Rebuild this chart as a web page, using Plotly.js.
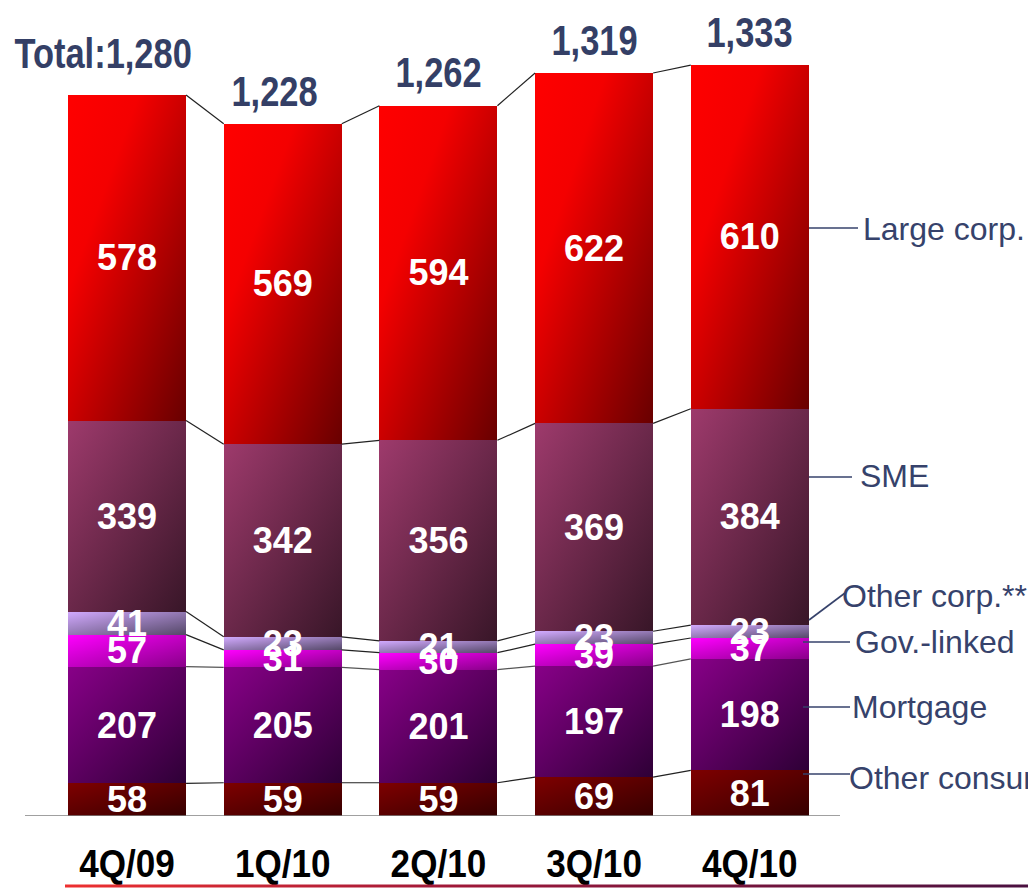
<!DOCTYPE html>
<html>
<head>
<meta charset="utf-8">
<script src="https://cdn.plot.ly/plotly-3.0.1.min.js"></script>
<style>
html,body{margin:0;padding:0;background:#fff;}
#chart{width:1028px;height:888px;}
</style>
</head>
<body>
<div id="chart"></div>
<script>
// ---- data ----
const categories = ['4Q/09', '1Q/10', '2Q/10', '3Q/10', '4Q/10'];
const otherConsumer = [58, 59, 59, 69, 81];
const mortgage = [207, 205, 201, 197, 198];
const govLinked = [57, 31, 30, 39, 37];
const otherCorp = [41, 23, 21, 23, 23];
const sme = [339, 342, 356, 369, 384];
const largeCorp = [578, 569, 594, 622, 610];
const totals = [1280, 1228, 1262, 1319, 1333];
const seriesNames = ['Other consumer', 'Mortgage', 'Gov.-linked', 'Other corp.**', 'SME', 'Large corp.'];
const seriesValues = [otherConsumer, mortgage, govLinked, otherCorp, sme, largeCorp];

// ---- style ----
const W = 1028, H = 888, MB = 72;
const XR = [-0.816, 5.787];
const YR = [0, 1448.6];
const BARW = 0.758;
const arial = "'Liberation Sans', Arial, sans-serif";
const slate = '#343F66';
const labelColor = '#36426B';
const grads = [
  [[0, '#7E0000'], [1, '#360000']],
  [[0, '#880088'], [1, '#2E0036']],
  [[0, '#FF00FF'], [1, '#8A008A']],
  [[0, '#D2AAFF'], [1, '#554868']],
  [[0, '#9E3A6C'], [1, '#381628']],
  [[0, '#FF0000'], [0.3, '#F40000'], [1, '#680000']]
];
const fallback = ['#600000', '#600060', '#D000D0', '#9A80C0', '#6A2A4A', '#C00000'];

const px2x = px => XR[0] + px / W * (XR[1] - XR[0]);
const py2p = py => (H - MB - py) / (H - MB);

const traces = seriesValues.map((vals, k) => ({
  type: 'bar',
  name: seriesNames[k],
  x: categories,
  y: vals,
  text: vals.map(String),
  textposition: 'inside',
  insidetextanchor: 'middle',
  constraintext: 'none',
  textangle: 0,
  textfont: {family: arial, size: 36, color: '#FFFFFF', weight: 'bold'},
  marker: {color: fallback[k], line: {width: 0}},
  hoverinfo: 'skip',
  cliponaxis: false
}));

const shapes = [];
const annotations = [];

// connector lines between bars (cumulative boundaries)
const cum = categories.map((c, i) => {
  const arr = [];
  let s = 0;
  seriesValues.forEach(v => { s += v[i]; arr.push(s); });
  return arr;
});
for (let i = 0; i < categories.length - 1; i++) {
  for (let k = 0; k < seriesValues.length; k++) {
    shapes.push({
      type: 'line', xref: 'x', yref: 'y',
      x0: i + BARW / 2, y0: cum[i][k],
      x1: i + 1 - BARW / 2, y1: cum[i + 1][k],
      line: {color: k === 1 ? '#555555' : '#222222', width: 1.2}
    });
  }
}

// baseline
shapes.push({
  type: 'line', xref: 'x', yref: 'y',
  x0: px2x(25), x1: px2x(840), y0: 0, y1: 0,
  line: {color: '#808080', width: 1.5}
});

// bottom gradient rule
const ruleIndex = shapes.length;
shapes.push({
  type: 'rect', xref: 'paper', yref: 'paper',
  x0: 65 / W, x1: 1, y0: py2p(887.5), y1: py2p(884.5),
  fillcolor: '#B01A30', line: {width: 0}
});

// right-side legend labels with leader lines
const legendSpec = [
  {k: 5, lx0: 809, ly0: 228, lx1: 858, ly1: 228, tx: 861, ty: 229},
  {k: 4, lx0: 809, ly0: 477, lx1: 852, ly1: 477, tx: 858, ty: 476},
  {k: 3, lx0: 809, ly0: 620, lx1: 845, ly1: 593, tx: 840, ty: 596},
  {k: 2, lx0: 803, ly0: 642, lx1: 850, ly1: 642, tx: 853, ty: 642},
  {k: 1, lx0: 803, ly0: 707, lx1: 850, ly1: 707, tx: 850, ty: 707},
  {k: 0, lx0: 803, ly0: 774, lx1: 850, ly1: 774, tx: 847, ty: 778}
];
legendSpec.forEach(s => {
  shapes.push({
    type: 'line', xref: 'paper', yref: 'paper',
    x0: s.lx0 / W, y0: py2p(s.ly0), x1: s.lx1 / W, y1: py2p(s.ly1),
    line: {color: labelColor, width: 1.6}
  });
  annotations.push({
    xref: 'paper', yref: 'paper', x: s.tx / W, y: py2p(s.ty),
    xanchor: 'left', yanchor: 'middle', showarrow: false,
    text: seriesNames[s.k],
    font: {family: arial, size: 32, color: labelColor}
  });
});

// totals above bars
const totalStart = annotations.length;
totals.forEach((t, i) => {
  annotations.push({
    xref: 'x', yref: 'y', x: i, y: t,
    xanchor: 'center', yanchor: 'middle', showarrow: false,
    text: (i === 0 ? 'Total:' : '') + t.toLocaleString('en-US'),
    xshift: i === 0 ? -24 : (i === 1 ? -8 : 0),
    yshift: i === 0 ? 41 : 33,
    font: {family: arial, size: 42, color: slate, weight: 'bold'}
  });
});

const layout = {
  width: W, height: H,
  margin: {l: 0, r: 0, t: 0, b: MB, pad: 0},
  paper_bgcolor: '#FFFFFF', plot_bgcolor: '#FFFFFF',
  barmode: 'stack',
  bargap: 1 - BARW,
  showlegend: false,
  xaxis: {
    type: 'category', categoryorder: 'array', categoryarray: categories,
    range: XR, fixedrange: true,
    showgrid: false, zeroline: false, showline: false, ticks: '',
    ticklabelstandoff: 21,
    tickfont: {family: arial, size: 39, color: '#000000', weight: 'bold'}
  },
  yaxis: {
    range: YR, fixedrange: true, visible: false,
    showgrid: false, zeroline: false
  },
  shapes: shapes,
  annotations: annotations
};

Plotly.newPlot('chart', traces, layout, {displayModeBar: false, staticPlot: true}).then(() => {
  const svg = document.querySelector('#chart .main-svg');
  const NS = 'http://www.w3.org/2000/svg';
  let defs = svg.querySelector('defs');
  if (!defs) { defs = document.createElementNS(NS, 'defs'); svg.insertBefore(defs, svg.firstChild); }
  const mk = (id, x2, y2, stops) => {
    const g = document.createElementNS(NS, 'linearGradient');
    g.setAttribute('id', id);
    g.setAttribute('x1', '0'); g.setAttribute('y1', '0');
    g.setAttribute('x2', x2); g.setAttribute('y2', y2);
    stops.forEach(s => {
      const st = document.createElementNS(NS, 'stop');
      st.setAttribute('offset', s[0]);
      st.setAttribute('stop-color', s[1]);
      g.appendChild(st);
    });
    defs.appendChild(g);
  };
  grads.forEach((stops, k) => mk('segGrad' + k, '1', '1', stops));
  mk('ruleGrad', '1', '0', [[0, '#EE3030'], [0.4, '#A01838'], [1, '#4A1040']]);
  const barlayer = document.querySelector('#chart .barlayer');
  document.querySelectorAll('#chart .barlayer .trace').forEach((tr, k) => {
    tr.querySelectorAll('.point path').forEach(p => {
      p.style.fill = 'url(#segGrad' + k + ')';
      p.style.fillOpacity = 1;
    });
  });
  // bring all value labels above every bar segment
  if (barlayer) {
    const top = document.createElementNS(NS, 'g');
    top.setAttribute('class', 'bartext-top');
    barlayer.querySelectorAll('text.bartext').forEach(t => top.appendChild(t));
    barlayer.appendChild(top);
  }
  const rule = document.querySelector('#chart .shapelayer path[data-index="' + ruleIndex + '"]');
  if (rule) rule.style.fill = 'url(#ruleGrad)';

  // condense bold headline texts (narrow face look)
  const condense = (el, f) => {
    const w = el.getComputedTextLength();
    el.setAttribute('textLength', (w * f).toFixed(1));
    el.setAttribute('lengthAdjust', 'spacingAndGlyphs');
  };
  document.querySelectorAll('#chart .xtick text').forEach(t => condense(t, 0.9));
  totals.forEach((t, i) => {
    const el = document.querySelector('#chart .annotation[data-index="' + (totalStart + i) + '"] text');
    if (el) condense(el, 0.82);
  });
});
</script>
</body>
</html>
